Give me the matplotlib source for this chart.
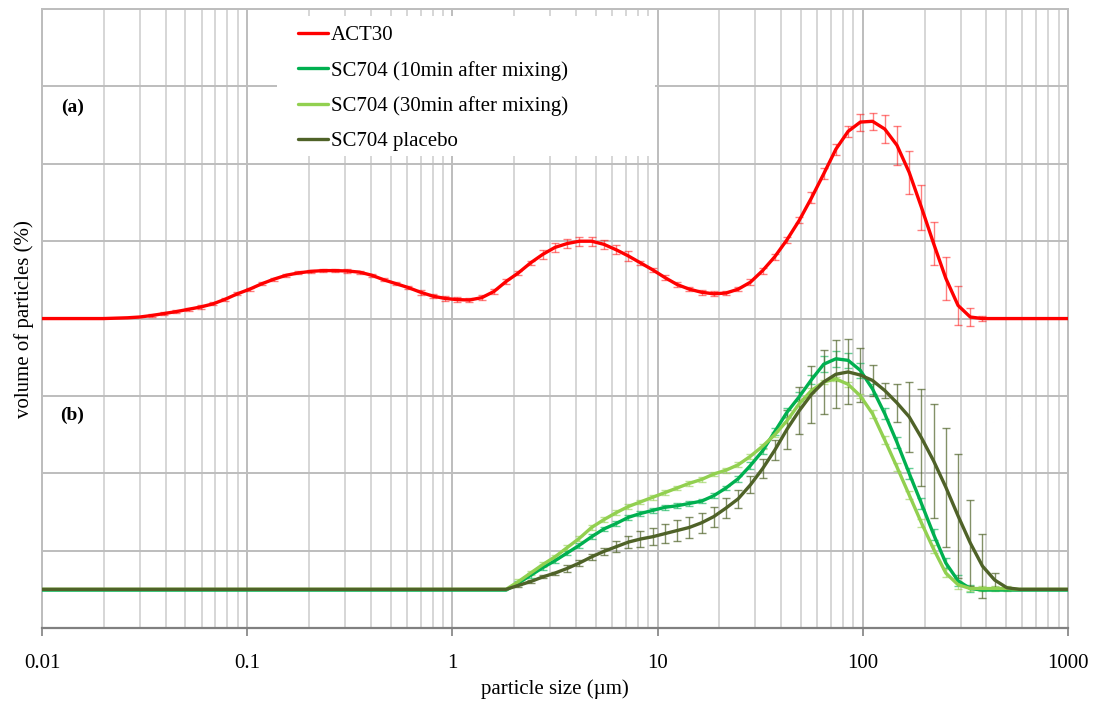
import matplotlib.pyplot as plt
from matplotlib.patches import Rectangle
import numpy as np

plt.rcParams['font.family'] = ['Liberation Serif', 'DejaVu Serif']

# size classes (um), log spaced from 0.01 to 1000
size_um = np.logspace(-2, 3, 85)

# volume (in grid units), one value per size class
act30 = [0, 0, 0, 0, 0, 0, 0.005, 0.01, 0.02, 0.04,
         0.065, 0.09, 0.12, 0.15, 0.19, 0.25, 0.32, 0.38, 0.45, 0.51,
         0.56, 0.59, 0.61, 0.62, 0.62, 0.615, 0.60, 0.56, 0.50, 0.45,
         0.40, 0.34, 0.29, 0.26, 0.245, 0.24, 0.27, 0.35, 0.48, 0.59,
         0.72, 0.83, 0.92, 0.97, 1.00, 1.00, 0.96, 0.89, 0.81, 0.72,
         0.63, 0.53, 0.44, 0.38, 0.34, 0.32, 0.33, 0.38, 0.47, 0.62,
         0.80, 1.02, 1.27, 1.56, 1.87, 2.19, 2.42, 2.54, 2.55, 2.45,
         2.24, 1.89, 1.44, 0.97, 0.52, 0.17, 0.02, 0, 0, 0,
         0, 0, 0, 0, 0]
act30_err = [0] * 9 + [0.02] * 22 + [0.03] * 10 + [0.06] * 8 + [0.03] * 9 + \
            [0.04] * 5 + [0.07] * 4 + [0.11, 0.11, 0.18, 0.25, 0.28, 0.29,
                                       0.28, 0.28, 0.25, 0.12, 0.03] + [0] * 7

sc704_10min = [0] * 39 + [0.09, 0.19, 0.29, 0.38, 0.48, 0.58, 0.69, 0.79, 0.86, 0.94,
                          0.99, 1.03, 1.07, 1.09, 1.12, 1.15, 1.22, 1.32, 1.44, 1.61,
                          1.80, 2.05, 2.30, 2.50, 2.72, 2.92, 2.99, 2.97, 2.84, 2.60,
                          2.28, 1.91, 1.51, 1.12, 0.72, 0.35, 0.12, 0.02] + [0] * 8
sc704_10min_err = [0] * 39 + [0.03] * 18 + [0.04] * 4 + [0.06] * 3 + [0.10] * 4 + \
                  [0.07] * 8 + [0.04] + [0] * 8

sc704_30min = [0] * 39 + [0.10, 0.21, 0.32, 0.42, 0.54, 0.66, 0.80, 0.90, 0.99, 1.07,
                          1.13, 1.19, 1.25, 1.31, 1.37, 1.42, 1.49, 1.54, 1.61, 1.72,
                          1.85, 2.00, 2.18, 2.40, 2.57, 2.68, 2.72, 2.65, 2.50, 2.27,
                          1.93, 1.58, 1.22, 0.86, 0.52, 0.21, 0.06, 0.01, 0.01, 0.01,
                          0.01] + [0] * 5
sc704_30min_err = [0] * 39 + [0.03] * 29 + [0.05] * 8 + [0.03] * 4 + [0] * 5

sc704_placebo = [0] * 39 + [0.05, 0.10, 0.16, 0.21, 0.27, 0.34, 0.42, 0.49, 0.55, 0.61,
                            0.65, 0.68, 0.72, 0.76, 0.80, 0.86, 0.94, 1.05, 1.17, 1.35,
                            1.56, 1.80, 2.07, 2.31, 2.52, 2.68, 2.78, 2.81, 2.77, 2.70,
                            2.57, 2.41, 2.23, 1.96, 1.66, 1.32, 0.95, 0.60, 0.30, 0.12,
                            0.02] + [0] * 5
sc704_placebo_err = [0] * 39 + [0.02] * 4 + [0.04] * 4 + \
                    [0.07, 0.08, 0.10, 0.11, 0.12, 0.14, 0.14, 0.13, 0.13, 0.13,
                     0.12, 0.11, 0.12, 0.13, 0.25, 0.30, 0.37, 0.42, 0.44, 0.42,
                     0.35, 0.20, 0.10, 0.25, 0.45, 0.63, 0.74, 0.77, 0.80, 0.56,
                     0.41, 0.09] + [0] * 6

series = [
    ('ACT30', act30, act30_err, 4.0, '#FF0000', 0.5),
    ('SC704 (10min after mixing)', sc704_10min, sc704_10min_err, 0.49, '#00B050', 0.6),
    ('SC704 (30min after mixing)', sc704_30min, sc704_30min_err, 0.5, '#92D050', 0.6),
    ('SC704 placebo', sc704_placebo, sc704_placebo_err, 0.5, '#4F6228', 0.7),
]

fig = plt.figure(figsize=(10.94, 7.03), dpi=100)
ax = fig.add_axes([0.0384, 0.1067, 0.9378, 0.8803])

for name, vals, err, offset, color, ea in series:
    y = np.array(vals) + offset
    e = np.array(err)
    m = e > 0
    ax.errorbar(size_um[m], y[m], yerr=e[m], fmt='none', ecolor=color,
                alpha=ea, elinewidth=1.0, capsize=2.6, capthick=1.0, zorder=3)
    ax.plot(size_um, y, color=color, lw=2.4, label=name, zorder=4,
            solid_joinstyle='round', solid_capstyle='round')

ax.set_xscale('log')
ax.set_xlim(0.01, 1000)
ax.set_ylim(0, 8)
ax.set_yticks(np.arange(0, 9))
ax.set_yticklabels([])
ax.tick_params(axis='y', length=0)
ax.set_xticks([0.01, 0.1, 1, 10, 100, 1000])
ax.set_xticklabels(['0.01', '0.1', '1', '10', '100', '1000'])
ax.tick_params(axis='x', which='major', length=6, width=1.2, color='#808080',
               labelsize=15, pad=13)
ax.tick_params(axis='x', which='minor', length=0)

ax.grid(True, which='major', axis='both', color='#BDBDBD', lw=1.4, zorder=0)
ax.grid(True, which='minor', axis='x', color='#D0D0D0', lw=1.2, zorder=0)
ax.set_axisbelow(True)
for s in ['top', 'right', 'left']:
    ax.spines[s].set_color('#BDBDBD')
    ax.spines[s].set_linewidth(1.4)
ax.spines['bottom'].set_color('#808080')
ax.spines['bottom'].set_linewidth(1.6)

ax.set_xlabel('particle size (µm)', fontsize=15, labelpad=4)
ax.set_ylabel('volume of particles (%)', fontsize=15, labelpad=2)

ax.text(0.0295, 0.842, '(a)', transform=ax.transAxes, fontsize=14,
        fontweight='bold', va='center', ha='center')
ax.text(0.0295, 0.343, '(b)', transform=ax.transAxes, fontsize=14,
        fontweight='bold', va='center', ha='center')

# white area behind the legend
ax.add_patch(Rectangle((0.229, 0.763), 0.368, 0.226, transform=ax.transAxes,
                       facecolor='white', edgecolor='none', zorder=2.5))

leg = ax.legend(loc='upper left', bbox_to_anchor=(0.233, 1.0), fontsize=15,
                frameon=False, handlelength=1.45, handletextpad=0.15,
                labelspacing=0.74, borderpad=0.3)
leg.set_zorder(5)

fig.savefig('out.png', dpi=100)
